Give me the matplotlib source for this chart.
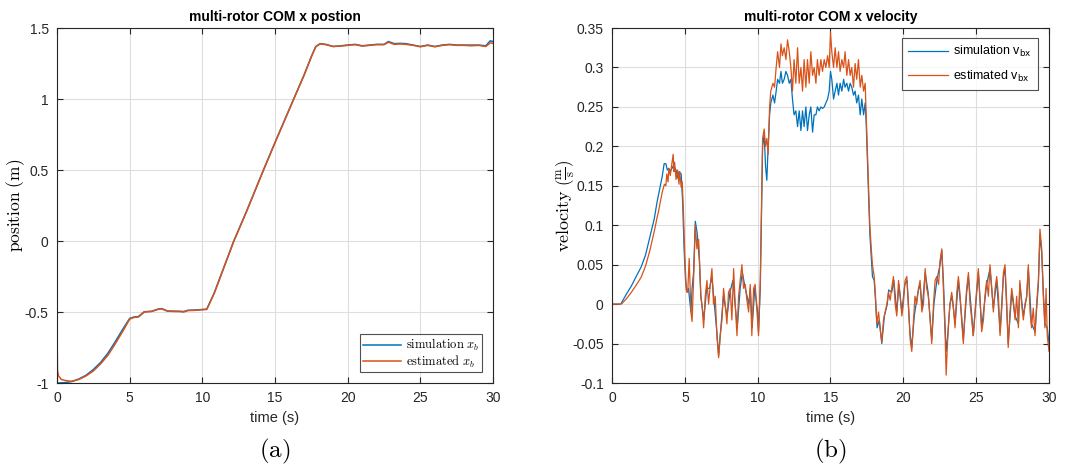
"""
multi-rotor COM x position / velocity: simulation vs estimate
"""
import matplotlib
matplotlib.use("Agg")
import matplotlib.pyplot as plt
from matplotlib.font_manager import FontProperties

plt.rcParams["font.family"] = ["Liberation Sans", "DejaVu Sans"]
plt.rcParams["mathtext.fontset"] = "cm"

BLUE = "#0072BD"
ORANGE = "#D95319"

# ---- position ----
t_pos_sim = [0, 0.5, 1.0, 1.5, 2.0, 2.5, 3.0, 3.5, 4.0, 4.5, 5.0, 5.3, 5.6, 5.8, 6.0, 6.5,
             7.0, 7.2, 7.6, 8.0, 8.5, 8.7, 9.0, 9.5, 10.0, 10.3, 10.8, 11.5, 12.16, 13.0,
             14.2, 15.0, 16.28, 17.0, 17.5, 17.8, 18.1, 18.5, 19.0, 19.5, 20.0, 20.5, 21.0,
             21.5, 22.0, 22.5, 22.8, 23.2, 23.6, 24.0, 24.5, 25.0, 25.5, 26.0, 26.5, 27.0,
             27.5, 28.0, 28.5, 29.0, 29.5, 29.8, 30.0]
x_pos_sim = [-1.0, -0.998, -0.99, -0.972, -0.945, -0.905, -0.855, -0.79, -0.71, -0.625,
             -0.545, -0.535, -0.532, -0.515, -0.498, -0.495, -0.478, -0.476, -0.493, -0.494,
             -0.495, -0.497, -0.488, -0.486, -0.482, -0.48, -0.37, -0.18, 0.0, 0.2,
             0.5, 0.695, 1.0, 1.17, 1.30, 1.37, 1.39, 1.385, 1.37, 1.375, 1.38, 1.385, 1.375,
             1.38, 1.385, 1.385, 1.405, 1.39, 1.392, 1.39, 1.38, 1.37, 1.38, 1.37, 1.38, 1.385,
             1.38, 1.38, 1.38, 1.38, 1.375, 1.41, 1.405]

t_pos_est = [0, 0.03, 0.1, 0.3, 0.6, 1.0, 1.5, 2.0, 2.5, 3.0, 3.5, 4.0, 4.5, 5.0, 5.3, 5.6,
             5.8, 6.0, 6.5, 7.0, 7.2, 7.6, 8.0, 8.5, 8.7, 9.0, 9.5, 10.0, 10.3, 10.8, 11.5,
             12.16, 13.0, 14.2, 15.0, 16.28, 17.0, 17.5, 17.8, 18.1, 18.5, 19.0, 19.5, 20.0,
             20.5, 21.0, 21.5, 22.0, 22.5, 22.8, 23.2, 23.6, 24.0, 24.5, 25.0, 25.5, 26.0,
             26.5, 27.0, 27.5, 28.0, 28.5, 29.0, 29.5, 29.8, 30.0]
x_pos_est = [-0.6, -0.91, -0.95, -0.975, -0.983, -0.988, -0.975, -0.95, -0.915, -0.865,
             -0.805, -0.725, -0.64, -0.55, -0.538, -0.535, -0.518, -0.5, -0.496, -0.48,
             -0.478, -0.494, -0.496, -0.497, -0.5, -0.49, -0.488, -0.484, -0.482, -0.372,
             -0.182, -0.002, 0.198, 0.498, 0.693, 0.998, 1.168, 1.298, 1.368, 1.388, 1.383,
             1.37, 1.373, 1.378, 1.383, 1.373, 1.378, 1.383, 1.383, 1.4, 1.385, 1.388, 1.385,
             1.378, 1.368, 1.378, 1.368, 1.378, 1.383, 1.378, 1.378, 1.375, 1.378, 1.37,
             1.395, 1.393]

# ---- velocity ----
t_vel_est = [0, 0.03, 0.6, 0.7, 1.0, 1.33, 1.66, 2.0, 2.3, 2.6, 2.9, 3.1, 3.2, 3.3, 3.45,
             3.6, 3.7, 3.76, 3.85, 3.9, 4.0, 4.1, 4.2, 4.25, 4.3, 4.4, 4.5, 4.6, 4.65, 4.75,
             4.82, 4.9, 5.0, 5.1, 5.2, 5.3, 5.42, 5.5, 5.6, 5.72, 5.83, 5.95, 6.0, 6.1, 6.2,
             6.29, 6.4, 6.52, 6.63, 6.75, 6.86, 6.97, 7.09, 7.2, 7.32, 7.43, 7.55, 7.66, 7.77,
             7.89, 8.0, 8.12, 8.23, 8.35, 8.46, 8.58, 8.69, 8.8, 8.92, 9.03, 9.15, 9.26, 9.38,
             9.49, 9.6, 9.72, 9.83, 9.95, 10.06, 10.18, 10.24, 10.34, 10.45, 10.54, 10.63,
             10.72, 10.82, 10.9, 11.05, 11.16, 11.27, 11.37, 11.5, 11.6, 11.7, 11.82, 11.94,
             12.05, 12.17, 12.28, 12.39, 12.5, 12.62, 12.74, 12.85, 12.97, 13.08, 13.19,
             13.31, 13.42, 13.54, 13.65, 13.77, 13.88, 14.0, 14.1, 14.22, 14.34, 14.45, 14.57,
             14.68, 14.8, 14.91, 15.0, 15.09, 15.21, 15.32, 15.44, 15.55, 15.66, 15.78, 15.9,
             16.0, 16.12, 16.24, 16.35, 16.46, 16.58, 16.69, 16.8, 16.92, 17.04, 17.15, 17.27,
             17.38, 17.45, 17.52, 17.6, 17.7, 17.8, 17.88, 18.0, 18.09, 18.18, 18.3, 18.4,
             18.52, 18.64, 18.75, 18.87, 18.98, 19.1, 19.2, 19.32, 19.44, 19.55, 19.67, 19.78,
             19.9, 20.0, 20.12, 20.24, 20.35, 20.47, 20.58, 20.7, 20.8, 20.92, 21.04, 21.15,
             21.27, 21.38, 21.5, 21.6, 21.72, 21.84, 21.95, 22.07, 22.18, 22.3, 22.42, 22.52,
             22.64, 22.75, 22.87, 22.94, 23.03, 23.12, 23.2, 23.32, 23.44, 23.55, 23.67, 23.78,
             23.9, 24.0, 24.12, 24.23, 24.35, 24.47, 24.58, 24.7, 24.8, 24.92, 25.04, 25.15,
             25.27, 25.38, 25.5, 25.6, 25.72, 25.84, 25.95, 26.07, 26.18, 26.3, 26.41, 26.53,
             26.64, 26.76, 26.87, 26.98, 27.1, 27.2, 27.32, 27.44, 27.55, 27.67, 27.78, 27.9,
             28.0, 28.12, 28.24, 28.35, 28.47, 28.58, 28.7, 28.8, 28.92, 29.04, 29.15, 29.27,
             29.38, 29.5, 29.61, 29.72, 29.8, 29.88, 30.0]
v_vel_est = [0.037, 0.0, 0.0, 0.001, 0.007, 0.015, 0.024, 0.034, 0.048, 0.068, 0.092, 0.11,
             0.118, 0.128, 0.142, 0.152, 0.15, 0.165, 0.155, 0.172, 0.163, 0.176, 0.19, 0.168,
             0.18, 0.158, 0.17, 0.152, 0.168, 0.148, 0.155, 0.12, 0.06, 0.018, 0.015, 0.058,
             -0.01, -0.022, 0.03, 0.10, 0.07, 0.082, 0.06, 0.01, -0.005, -0.03, 0.01, 0.03,
             0.0, 0.025, 0.045, 0.0, 0.01, -0.04, -0.068, -0.04, -0.02, 0.02, 0.0, -0.025,
             0.015, 0.02, -0.02, 0.045, 0.0, -0.04, 0.01, 0.03, 0.05, 0.02, 0.025, 0.005,
             -0.01, 0.025, -0.04, 0.02, 0.025, -0.01, -0.04, 0.03, 0.10, 0.21, 0.222, 0.20,
             0.21, 0.19, 0.25, 0.27, 0.28, 0.275, 0.30, 0.32, 0.30, 0.33, 0.315, 0.325, 0.31,
             0.335, 0.32, 0.30, 0.27, 0.31, 0.28, 0.325, 0.28, 0.30, 0.27, 0.31,
             0.275, 0.31, 0.28, 0.32, 0.29, 0.30, 0.28, 0.31, 0.29, 0.31, 0.295, 0.31,
             0.30, 0.315, 0.30, 0.345, 0.32, 0.30, 0.325, 0.30, 0.32, 0.295, 0.31, 0.30,
             0.32, 0.29, 0.31, 0.29, 0.30, 0.275, 0.305, 0.285, 0.31, 0.275, 0.29, 0.27,
             0.28, 0.24, 0.20, 0.15, 0.10, 0.07, 0.05, 0.035, 0.01, -0.025, -0.01, -0.03,
             -0.048, -0.02, -0.01, 0.0, 0.015, 0.005, 0.02, 0.035, 0.0, -0.015, 0.03, 0.01,
             -0.015, 0.0, 0.03, 0.035, 0.0, -0.045, -0.06, -0.02, 0.01, 0.0, 0.02, 0.03,
             -0.01, 0.0, 0.045, 0.02, 0.01, -0.02, -0.05, 0.0, 0.03, 0.035, 0.025, 0.055,
             0.07, 0.02, -0.04, -0.09, -0.05, -0.02, 0.0, 0.015, -0.005, -0.03, 0.015, 0.035,
             0.01, -0.02, -0.05, -0.01, 0.02, 0.04, 0.0, -0.02, -0.04, -0.01, 0.02, 0.045,
             0.005, -0.035, -0.02, 0.01, 0.03, 0.01, 0.05, 0.02, -0.01, 0.02, 0.035, 0.01,
             -0.04, -0.005, 0.04, 0.05, 0.0, -0.055, -0.01, 0.02, 0.005, -0.02, 0.01, -0.03,
             0.03, 0.0, -0.02, 0.0, 0.01, 0.05, -0.01, -0.03, -0.005, -0.04, 0.0, 0.03,
             0.095, 0.07, 0.01, -0.03, 0.02, -0.04, -0.06]

t_vel_sim = [0, 0.6, 1.0, 1.33, 1.66, 2.0, 2.3, 2.6, 2.9, 3.1, 3.3, 3.45, 3.58, 3.7, 3.8,
             3.9, 4.0, 4.2, 4.4, 4.5, 4.6, 4.75, 4.85, 4.95, 5.05, 5.15, 5.25, 5.42, 5.5, 5.6,
             5.72, 5.85, 6.0, 6.1, 6.3, 6.5, 6.7, 6.86, 7.0, 7.2, 7.32, 7.45, 7.65, 7.9, 8.1,
             8.3, 8.5, 8.6, 8.8, 8.95, 9.15, 9.4, 9.5, 9.62, 9.8, 10.0, 10.06, 10.18, 10.24,
             10.34, 10.45, 10.54, 10.63, 10.72, 10.82, 10.9, 11.05, 11.16, 11.27, 11.37, 11.5,
             11.6, 11.7, 11.82, 11.94, 12.05, 12.17, 12.28, 12.39, 12.5, 12.62, 12.74, 12.85,
             12.97, 13.08, 13.19, 13.31, 13.42, 13.54, 13.65, 13.77, 13.88, 14.0, 14.1, 14.22,
             14.34, 14.45, 14.57, 14.68, 14.8, 14.91, 15.0, 15.09, 15.21, 15.32, 15.44, 15.55,
             15.66, 15.78, 15.9, 16.0, 16.12, 16.24, 16.35, 16.46, 16.58, 16.69, 16.8, 16.92,
             17.04, 17.15, 17.27, 17.38, 17.45, 17.52, 17.6, 17.7, 17.8, 17.88, 18.0, 18.09,
             18.2, 18.35, 18.52, 18.7, 18.9, 19.0, 19.2, 19.35, 19.55, 19.7, 19.9, 20.1,
             20.25, 20.45, 20.58, 20.75, 21.0, 21.15, 21.3, 21.5, 21.7, 21.95, 22.1, 22.3,
             22.52, 22.64, 22.75, 22.87, 22.94, 23.05, 23.2, 23.35, 23.55, 23.78, 24.0, 24.12,
             24.35, 24.47, 24.7, 24.8, 25.04, 25.15, 25.38, 25.6, 25.72, 25.95, 26.18, 26.41,
             26.64, 26.87, 26.98, 27.2, 27.44, 27.67, 27.9, 28.0, 28.24, 28.47, 28.58, 28.8,
             29.04, 29.27, 29.38, 29.5, 29.61, 29.72, 29.88, 30.0]
v_vel_sim = [0.0, 0.0, 0.013, 0.023, 0.035, 0.047, 0.062, 0.085, 0.108, 0.13, 0.148, 0.162,
             0.178, 0.178, 0.17, 0.172, 0.168, 0.175, 0.17, 0.16, 0.168, 0.165, 0.13, 0.07,
             0.03, 0.015, 0.02, -0.01, 0.02, 0.04, 0.105, 0.09, 0.055, 0.01, -0.02, 0.02, 0.02,
             0.035, 0.005, -0.035, -0.065, -0.035, 0.01, -0.015, 0.015, 0.03, -0.01, -0.03,
             0.02, 0.04, 0.02, 0.0, 0.02, -0.03, 0.02, -0.01, -0.035, 0.02, 0.09, 0.20, 0.215,
             0.175, 0.157, 0.20, 0.24, 0.255, 0.265, 0.255, 0.27, 0.285, 0.28, 0.295, 0.28,
             0.285, 0.295, 0.29, 0.28, 0.285, 0.26, 0.24, 0.245, 0.225, 0.245, 0.22, 0.245,
             0.225, 0.25, 0.22, 0.24, 0.25, 0.218, 0.24, 0.24, 0.25, 0.245, 0.25, 0.248, 0.25,
             0.255, 0.26, 0.27, 0.295, 0.285, 0.26, 0.27, 0.28, 0.265, 0.28, 0.27, 0.285,
             0.275, 0.28, 0.27, 0.28, 0.275, 0.265, 0.27, 0.255, 0.265, 0.24, 0.26, 0.24,
             0.255, 0.23, 0.19, 0.14, 0.09, 0.06, 0.035, 0.03, 0.005, -0.03, -0.02, -0.05,
             -0.015, 0.0, 0.018, 0.015, 0.03, -0.01, 0.025, -0.01, 0.025, 0.03, -0.035,
             -0.055, -0.015, 0.015, 0.025, -0.005, 0.04, 0.015, -0.045, 0.0, 0.03, 0.05,
             0.068, 0.03, -0.03, -0.06, -0.04, 0.0, 0.01, -0.025, 0.03, -0.015, -0.045,
             0.015, 0.035, -0.015, -0.04, 0.015, 0.04, -0.03, 0.005, 0.025, 0.045, -0.005,
             0.03, -0.035, 0.035, 0.045, -0.05, 0.015, -0.015, -0.025, 0.025, -0.015, 0.01,
             0.045, -0.025, -0.035, 0.025, 0.088, 0.065, 0.015, -0.025, -0.03, -0.05]


def style_axes(ax):
    ax.grid(True, color="#dedede", linewidth=0.8)
    ax.set_axisbelow(True)
    ax.tick_params(direction="in", top=True, right=True, length=4, width=0.8,
                   labelsize=10, colors="#262626", pad=6)
    for sp in ax.spines.values():
        sp.set_color("#262626")
        sp.set_linewidth(0.8)


fig = plt.figure(figsize=(10.78, 4.68), dpi=100)
ax1 = fig.add_axes([0.0529, 0.1816, 0.4045, 0.7585])
ax2 = fig.add_axes([0.5677, 0.1816, 0.4054, 0.7585])

# (a) position
ax1.plot(t_pos_sim, x_pos_sim, color=BLUE, lw=1.1, label=r"$\mathrm{simulation}\ x_b$")
ax1.plot(t_pos_est, x_pos_est, color=ORANGE, lw=1.1, label=r"$\mathrm{estimated}\ x_b$")
ax1.set_xlim(0, 30)
ax1.set_ylim(-1, 1.5)
ax1.set_xticks([0, 5, 10, 15, 20, 25, 30])
ax1.set_yticks([-1, -0.5, 0, 0.5, 1, 1.5])
ax1.set_yticklabels(["-1", "-0.5", "0", "0.5", "1", "1.5"])
style_axes(ax1)
ax1.set_title("multi-rotor COM x postion", fontsize=10, fontweight="bold", pad=5)
ax1.set_xlabel("time (s)", fontsize=10.5, color="#262626")
ax1.set_ylabel(r"$\mathrm{position\ (m)}$", fontsize=12.5)
ax1.yaxis.set_label_coords(-0.068, 0.5)
leg1 = ax1.legend(loc="lower right", fontsize=9, frameon=True, fancybox=False,
                  edgecolor="#262626", handlelength=3.1, borderpad=0.2,
                  labelspacing=0.05, handletextpad=0.4, borderaxespad=0,
                  bbox_to_anchor=(0.975, 0.03))
leg1.get_frame().set_linewidth(0.8)

# (b) velocity
ax2.plot(t_vel_sim, v_vel_sim, color=BLUE, lw=0.9, label=r"simulation v$_\mathrm{bx}$")
ax2.plot(t_vel_est, v_vel_est, color=ORANGE, lw=0.9, label=r"estimated v$_\mathrm{bx}$")
ax2.set_xlim(0, 30)
ax2.set_ylim(-0.1, 0.35)
ax2.set_xticks([0, 5, 10, 15, 20, 25, 30])
ax2.set_yticks([-0.1, -0.05, 0, 0.05, 0.1, 0.15, 0.2, 0.25, 0.3, 0.35])
ax2.set_yticklabels(["-0.1", "-0.05", "0", "0.05", "0.1", "0.15", "0.2", "0.25", "0.3", "0.35"])
style_axes(ax2)
ax2.set_title("multi-rotor COM x velocity", fontsize=10, fontweight="bold", pad=5)
ax2.set_xlabel("time (s)", fontsize=10.5, color="#262626")
ax2.set_ylabel(r"$\mathrm{velocity}\ \left(\frac{\mathrm{m}}{\mathrm{s}}\right)$", fontsize=13)
ax2.yaxis.set_label_coords(-0.082, 0.5)
prop = FontProperties(family="Liberation Sans", size=9, math_fontfamily="dejavusans")
leg2 = ax2.legend(loc="upper right", prop=prop, frameon=True, fancybox=False,
                  edgecolor="#262626", handlelength=3.2, borderpad=0.5,
                  labelspacing=0.75, handletextpad=0.4, borderaxespad=0,
                  bbox_to_anchor=(0.975, 0.972))
leg2.get_frame().set_linewidth(0.8)

fig.text(0.2550, 0.035, r"$\mathrm{(a)}$", fontsize=18, ha="center", va="center")
fig.text(0.7704, 0.035, r"$\mathrm{(b)}$", fontsize=18, ha="center", va="center")

fig.savefig("out.png", dpi=100, facecolor="white")
